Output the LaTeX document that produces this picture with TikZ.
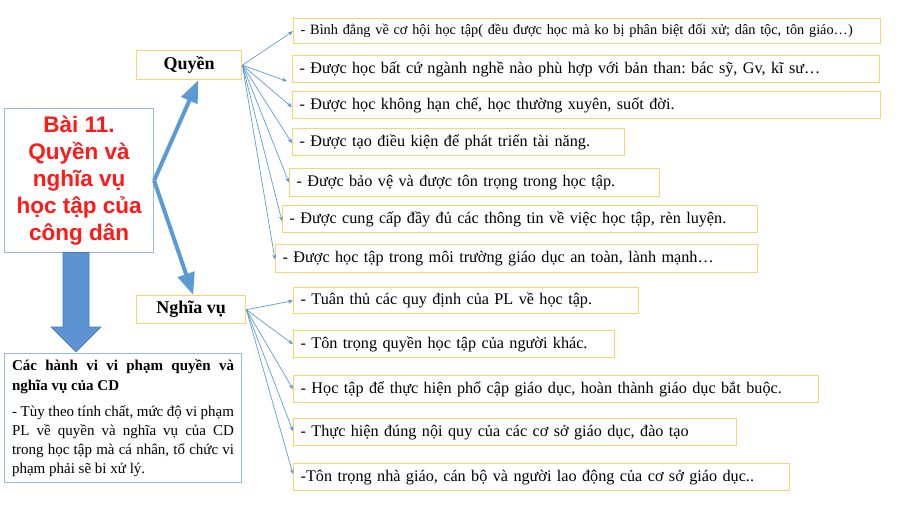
\documentclass[tikz,border=0pt]{standalone}
\usepackage{fontspec}
\setmainfont{Liberation Serif}
\newfontfamily\arialf{Liberation Sans}
\usetikzlibrary{arrows.meta}
\frenchspacing
\definecolor{obord}{HTML}{FFD36B}
\definecolor{cblue}{HTML}{5B9BD5}
\definecolor{mbord}{HTML}{95B9E4}
\definecolor{mred}{HTML}{FF1A1A}
\definecolor{afill}{HTML}{5B93D3}
\definecolor{aline}{HTML}{4A7AB5}
\tikzset{
  rbox/.style={draw=obord, line width=1.4pt, fill=white, inner xsep=7pt, inner ysep=0pt, align=left,
    anchor=north west, font=\fontsize{16.2}{19}\selectfont},
  hbox/.style={draw=obord, line width=1.4pt, fill=white, inner sep=0pt, anchor=north west,
    font=\fontsize{18}{20}\selectfont\bfseries},
  conn/.style={draw=cblue, line width=0.7pt, -{Stealth[length=5pt,width=4pt]}},
  thick/.style={draw=cblue, line width=4pt, -{Triangle[length=22pt,width=17pt]}}
}
\begin{document}
\begin{tikzpicture}[x=1pt,y=-1pt]
\useasboundingbox (0,0) rectangle (900,506);
% main box
\node[draw=mbord, line width=1.1pt, minimum width=149pt, minimum height=144pt, inner sep=0pt,
  anchor=north west, align=center, text=mred, font=\arialf\fontsize{22.5}{27}\selectfont\bfseries]
  (main) at (4,108) {Bài 11.\\Quyền và\\nghĩa vụ\\học tập của\\công dân};
% heading boxes
\node[hbox, minimum width=105pt, minimum height=29pt] (q) at (136,50) {Quyền};
\node[hbox, minimum width=109pt, minimum height=28pt] (n) at (136,295) {Nghĩa vụ};
% thick arrows
\draw[thick] (main.east) -- ([xshift=9pt]q.south);
\draw[thick] (main.east) -- ([xshift=2pt]n.north);
% big down arrow
\filldraw[fill=afill, draw=aline, line width=0.6pt] (63,252.5) -- (89,252.5) -- (89,327) -- (101,327) -- (76,352) -- (51,327) -- (63,327) -- cycle;
% bottom box
\node[draw=mbord, line width=1.1pt, minimum width=237pt, minimum height=129pt, inner xsep=7.5pt, inner ysep=4pt,
  anchor=north west, text width=222pt, align=justify, font=\fontsize{15}{19}\selectfont]
  (v) at (4,353) {{\bfseries\baselineskip=20pt Các hành vi vi phạm quyền và\linebreak nghĩa vụ của CD\par}\vspace{7pt}%
  - Tùy theo tính chất, mức độ vi phạm\linebreak PL về quyền và nghĩa vụ của CD\linebreak trong học tập mà cá nhân, tổ chức vi\linebreak phạm phải sẽ bi xử lý.};
% right boxes: quyen
\node[rbox, minimum height=25pt, text width=573pt, font=\fontsize{14.3}{17}\selectfont] (b1) at (293,18) {- Bình đẳng về cơ hội học tập( đều được học mà ko bị phân biệt đối xử; dân tộc, tôn giáo…)};
\node[rbox, minimum height=27pt, text width=573pt] (b2) at (292,55) {- Được học bất cứ ngành nghề nào phù hợp với bản than: bác sỹ, Gv, kĩ sư…};
\node[rbox, minimum height=27pt, text width=574pt] (b3) at (292,91) {- Được học không hạn chế, học thường xuyên, suốt đời.};
\node[rbox, minimum height=27pt, text width=318pt] (b4) at (292,128) {- Được tạo điều kiện để phát triển tài năng.};
\node[rbox, minimum height=28pt, text width=356pt] (b5) at (289,168) {- Được bảo vệ và được tôn trọng trong học tập.};
\node[rbox, minimum height=27pt, text width=461pt] (b6) at (282,205) {- Được cung cấp đầy đủ các thông tin về việc học tập, rèn luyện.};
\node[rbox, minimum height=28pt, text width=468pt] (b7) at (275,244) {- Được học tập trong môi trường giáo dục an toàn, lành mạnh…};
% right boxes: nghia vu
\node[rbox, minimum height=26pt, text width=331pt] (b8) at (293,287) {- Tuân thủ các quy định của PL về học tập.};
\node[rbox, minimum height=27pt, text width=307pt] (b9) at (293,330) {- Tôn trọng quyền học tập của người khác.};
\node[rbox, minimum height=27pt, text width=511pt] (b10) at (293,375) {- Học tập để thực hiện phổ cập giáo dục, hoàn thành giáo dục bắt buộc.};
\node[rbox, minimum height=27pt, text width=429pt] (b11) at (293,418) {- Thực hiện đúng nội quy của các cơ sở giáo dục, đào tạo};
\node[rbox, minimum height=27pt, text width=482pt] (b12) at (293,463) {-Tôn trọng nhà giáo, cán bộ và người lao động của cơ sở giáo dục..};
% connectors
\draw[conn] (q.east) -- (b1.west);
\draw[conn] (q.east) -- ([xshift=-5pt,yshift=-12pt]b2.west);
\draw[conn] (q.east) -- ([yshift=-2pt]b3.west);
\draw[conn] (q.east) -- ([yshift=-1pt]b4.west);
\draw[conn] (q.east) -- (b5.west);
\draw[conn] (q.east) -- ([yshift=-2pt]b6.west);
\draw[conn] (q.east) -- ([yshift=-1pt]b7.west);
\draw[conn] (n.east) -- (b8.west);
\draw[conn] (n.east) -- (b9.west);
\draw[conn] (n.east) -- (b10.west);
\draw[conn] (n.east) -- ([yshift=1pt]b11.west);
\draw[conn] (n.east) -- ([yshift=3pt]b12.west);
\end{tikzpicture}
\end{document}
